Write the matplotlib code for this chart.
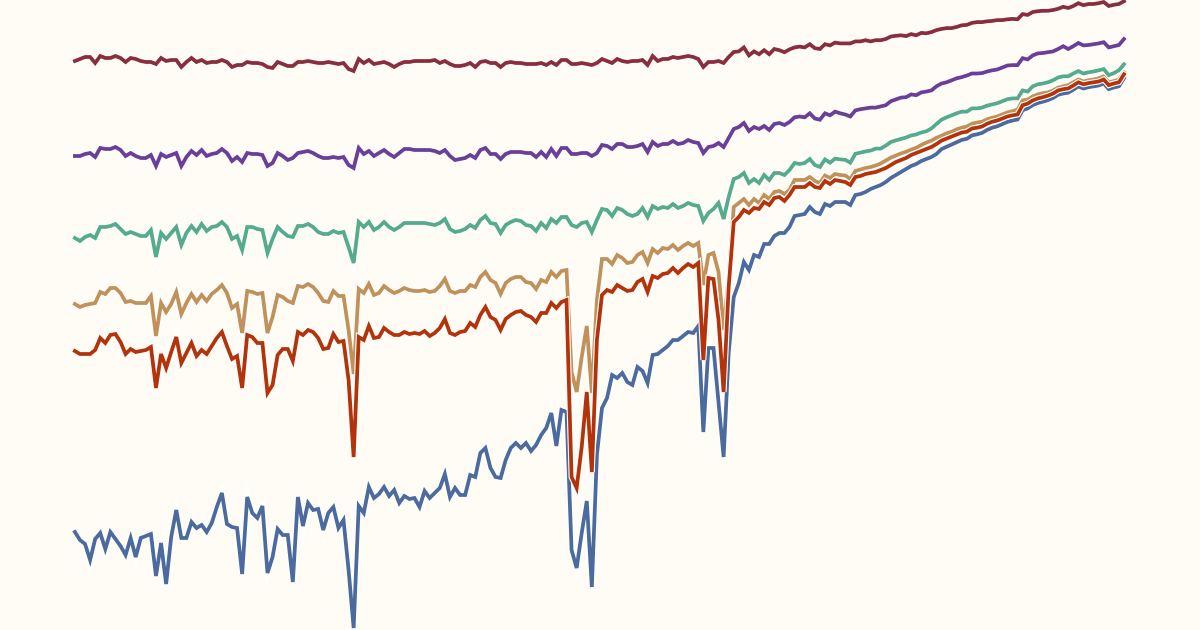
import numpy as np
import matplotlib
matplotlib.use("Agg")
from matplotlib import pyplot as plt
import matplotlib.patheffects as pe

# values (distance from the top edge, so the y axis is flipped)
maroon = [61, 59, 57, 57, 63, 56, 58, 58, 56, 58, 62, 58, 59, 61, 62, 62, 64, 58, 61, 60,
          60, 67, 62, 58, 62, 60, 63, 62, 62, 60, 62, 67, 65, 65, 62, 63, 63, 64,
          67, 68, 62, 64, 66, 66, 62, 62, 61, 62, 63, 63, 62, 63, 64, 63, 69, 71, 59, 63,
          60, 64, 63, 62, 64, 67, 64, 62, 62, 61, 61, 61, 61, 60, 63, 61, 64,
          66, 66, 65, 63, 67, 62, 61, 63, 63, 67, 63, 62, 63, 63, 64, 64, 64, 63, 65, 62,
          65, 60, 60, 64, 64, 63, 64, 65, 63, 59, 61, 63, 59, 61, 62, 61, 61, 60, 65,
          56, 61, 59, 59, 57, 58, 57, 56, 57, 59, 67, 62, 62, 61, 63, 57, 52,
          51.4, 47.4, 55.4, 51.4, 54.2, 50.2, 54.2, 49, 50.2, 52.2, 49.4, 47.4, 46.6, 47.4,
          44.2, 48.2, 49, 44.2, 45.4, 42.6, 43.4, 43.4, 43.4, 41.4, 41.4, 40.2, 41.4, 40.2,
          40.2, 39, 36.5, 35.8, 35.3, 36.1, 34.1, 35.3, 32.9, 33.3, 32.1, 30.1,
          28.9, 28.1, 28.1, 26.9, 25.3, 24.9, 22.9, 22.1, 22.1, 21.3, 20.9, 20.1, 20.1, 19.3,
          18.9, 19.3, 14.1, 14.9, 12, 11.2, 10.8, 10.8, 10, 8.8, 6.8, 8, 6, 3.2, 5.2, 4, 4,
          3.2, 2, 6, 4.8, 4, 1.2]

purple = [156, 156, 154, 153, 157, 148, 149, 149, 147, 150, 156, 153, 156, 158, 158, 155,
          166, 154, 157, 155, 153, 166, 157, 151, 155, 150, 156, 154, 153, 149, 153, 161,
          157, 162, 153, 154, 154, 155,
          166, 163, 153, 156, 160, 158, 153, 152, 151, 153, 156, 158, 158, 157, 158, 157,
          165, 168, 148, 154, 151, 156, 153, 150, 154, 157, 153, 149, 149, 150, 150, 150,
          150, 151, 153, 150, 156,
          160, 159, 158, 155, 158, 150, 148, 154, 154, 159, 154, 152, 152, 152, 153, 153,
          157, 152, 157, 149, 156, 148, 148, 154, 154, 153, 153, 156, 153, 145, 146, 149, 144,
          144, 147, 147, 146, 144, 152, 142, 146, 144, 144, 141, 144, 143, 140, 142, 143,
          153, 147, 146, 143, 147, 138, 129, 127, 123, 131, 127, 129, 126, 130, 124, 123,
          125, 122,
          117.3, 116.5, 117.3, 113.3, 118.5, 119.7, 113.3, 115.3, 111.6, 113.3, 114.5, 116.5,
          110.4, 109.2, 108.4, 107.6, 107.6, 106.4, 105.2, 101.2, 99.4, 97.6, 97.2,
          94.4, 95.2, 92.4, 91.6, 90.4, 86.3,
          83.5, 82.3, 80.3, 78.3, 77.1, 75.5, 73.5, 73.5, 73.1, 71.5, 70.3, 69.5, 67.5, 65.5,
          65.1, 65.1, 58.2, 59.4, 55.4, 53.4, 53, 52.2, 51.4, 49, 46.2, 49, 46.2, 43, 45.4,
          45, 44.2, 43.4, 42.2, 47.4, 46.2, 45, 39]

green = [238, 241, 237, 235, 238, 227, 227, 226, 224, 229, 234, 232, 234, 236, 236, 230,
         257, 233, 239, 233, 227, 245, 233, 226, 232, 224, 231, 227, 226, 222, 227, 239,
         236, 250, 227, 227, 229, 230,
         253, 239, 227, 232, 236, 237, 226, 226, 224, 227, 232, 234, 234, 231, 233, 232,
         247, 263, 222, 227, 222, 230, 227, 222, 227, 230, 227, 223, 223, 223, 223, 223,
         224, 225, 223, 219, 229,
         232, 231, 229, 225, 228, 220, 216, 223, 224, 233, 225, 222, 220, 221, 225, 226,
         231, 223, 228, 219, 223, 217, 217, 225, 227, 223, 222, 232, 220, 209, 210, 216,
         208, 210, 214, 216, 214,
         208, 217, 206, 209, 207, 208, 204, 208, 206, 203, 205, 206, 221, 213, 209, 203,
         219, 197, 179, 177, 173, 183, 179, 183, 175, 180, 173, 173, 175, 170, 163, 164,
         163, 159, 165, 167,
         159.4, 162.7, 158.6, 159.4, 159.8, 162.7, 153.8, 152.6, 151.4, 150.6, 148.6, 148.6,
         145.6, 142, 140.4, 139, 137.5, 135.5, 134.5, 132.5, 131.3, 128.5, 124,
         119.7, 117.3, 115.3, 113.3, 111.6, 111.6, 108.4, 108.4, 107.6, 105.6, 104.4, 103.2,
         101.2, 99.2, 98.4, 98.4, 90.4, 91.6, 86.3, 84.3, 83.5, 82.3, 80.3, 77.5, 76.3, 76.3,
         73.5, 71.1, 73.5, 72.3, 71.5, 70.3, 69.1, 75.1, 73.1, 70.3, 64.3]

tan = [304, 307, 305, 304, 303, 292, 294, 288, 288, 293, 302, 301, 303, 303, 303, 296,
       336, 303, 312, 304, 292, 314, 303, 294, 302, 295, 301, 294, 290, 285, 293, 308,
       304, 333, 291, 292, 294, 293,
       333, 317, 295, 297, 301, 303, 286, 287, 284, 287, 293, 301, 302, 291, 296, 296,
       330, 374, 289, 293, 284, 295, 293, 286, 290, 293, 291, 288, 290, 291, 291, 290,
       292, 291, 286, 279, 291,
       293, 291, 291, 285, 287, 277, 272, 280, 283, 294, 283, 279, 277, 277, 282, 283,
       289, 280, 282, 272, 277, 271, 270, 372, 392, 357, 326, 393, 300, 259, 259, 264,
       255, 258, 263, 262, 255,
       252, 263, 249, 253, 248, 249, 245, 250, 246, 243, 246, 243, 285, 255, 253, 272,
       330, 277, 207, 203, 199, 205, 199, 203, 195, 199, 192, 191, 194, 190, 180, 180,
       180, 177, 181, 183,
       175.5, 178, 174, 175, 175.5, 179, 171, 169.5, 168, 167, 165.5, 163.5, 160.5, 157.6,
       155.6, 153.4, 151.8, 149.6, 147.8, 145, 142.6, 140.6, 137.8,
       135.7, 133.3, 131.7, 129.3, 127.7, 126.5, 123.7, 122.5, 121.7, 119.3, 117.7, 116.5,
       114.5, 112.4, 111.2, 109.6, 100.4, 99.6, 96.4, 94.4, 93.2, 92.4, 90.4, 87.6, 86.3,
       85.1, 82.3, 79.5, 81.5, 80.3, 79.5, 78.3, 76.3, 82.3, 81.1, 79.5, 72.3]

red = [351, 354, 354, 354, 350, 338, 343, 335, 334, 342, 354, 349, 352, 351, 350, 347,
       388, 354, 368, 352, 337, 363, 353, 343, 356, 350, 354, 346, 338, 332, 346, 359,
       356, 388, 335, 337, 343, 343,
       393, 385, 355, 349, 349, 361, 332, 335, 330, 332, 338, 349, 348, 334, 342, 341,
       380, 457, 337, 340, 326, 338, 337, 328, 332, 335, 335, 332, 334, 333, 334, 331,
       336, 333, 328, 319, 333,
       335, 332, 331, 323, 327, 315, 307, 317, 320, 330, 319, 315, 312, 311, 315, 317,
       322, 313, 313, 303, 308, 302, 300, 477, 488, 447, 392, 472, 340, 295, 290, 292,
       285, 288, 291, 290, 282,
       279, 292, 276, 278, 274, 273, 268, 273, 268, 264, 267, 263, 360, 278, 279, 320,
       392, 287, 222, 217, 210, 213, 208, 209, 202, 205, 198, 197, 201, 195, 187, 187,
       187, 183, 187, 188,
       181, 184, 180, 181, 182, 185, 177, 176, 174, 173, 172, 170, 168, 165, 162, 160,
       158, 155, 153, 151, 149, 147, 144,
       140.6, 138.6, 136.5, 134.5, 132.5, 131.7, 128.5, 127.7, 126.5, 123.7, 121.7, 120.5,
       118.5, 116.5, 115.3, 114.5, 105.2, 103.6, 100.4, 98.4, 97.2, 95.6, 93.6, 90.4, 89.2,
       88.4, 85.5, 82.3, 84.3, 83.1, 82.3, 81.5, 79.5, 85.1, 83.5, 82.3, 74.3]

blue = [532, 540, 544, 560, 539, 533, 549, 532, 539, 546, 555, 538, 557, 538, 536, 534,
        576, 543, 584, 537, 510, 538, 538, 522, 528, 525, 532, 523, 507, 493, 524, 527,
        528, 574, 497, 513, 518, 506,
        573, 557, 529, 535, 535, 582, 497, 526, 503, 510, 509, 530, 513, 507, 528, 520,
        570, 628, 506, 513, 487, 498, 494, 487, 496, 490, 503, 496, 499, 498, 507, 491,
        498, 493, 488, 474, 497,
        488, 495, 495, 475, 477, 453, 448, 468, 477, 478, 460, 448, 443, 448, 443, 451,
        445, 435, 428, 413, 446, 410, 412, 550, 568, 533, 501, 587, 455, 408, 398, 375,
        378, 373, 382, 385, 367,
        371, 383, 355, 354, 350, 346, 340, 340, 336, 332, 333, 326, 432, 348, 348, 403,
        457, 353, 297, 283, 262, 270, 255, 257, 244, 244, 236, 233, 233, 227, 216, 215,
        214, 207, 212, 214,
        204, 206, 202, 202, 202, 205, 195, 194, 192, 189, 187, 185, 182, 178, 175, 172,
        169, 166, 164, 161, 159, 157, 154,
        149.1, 146.8, 144.5, 142.2, 139.9, 138.8, 135.4, 134.3, 132.9, 129.9, 127.7, 126.3,
        124.1, 121.9, 120.5, 119.5, 110.2, 108.4, 105.1, 103, 101.7, 100.1, 98, 94.8, 93.5,
        92.7, 89.7, 86.5, 88.5, 87.2, 86.4, 85.5, 83.5, 89.1, 87.5, 86.3, 78.3]

series = [
    (blue, "#4b6a9d"),
    (tan, "#c1915a"),
    (red, "#b3340b"),
    (green, "#55ab8b"),
    (purple, "#6b3e98"),
    (maroon, "#8a2e3b"),
]

bg = "#fffcf5"
fig = plt.figure(figsize=(12, 6.3), dpi=100, facecolor=bg)
ax = fig.add_axes([0, 0, 1, 1])
ax.set_facecolor(bg)

for vals, colour in series:
    x = np.arange(len(vals))
    ax.plot(x, vals, color=colour, lw=2.7, solid_joinstyle="miter",
            path_effects=[pe.Stroke(linewidth=4.3, foreground="white"), pe.Normal()])

# first point sits at x=75px, spacing ~5.07px
ax.set_xlim(-14.78, 222.0)
ax.set_ylim(630, 0)
ax.axis("off")

fig.savefig("out.png", dpi=100, facecolor=bg)
